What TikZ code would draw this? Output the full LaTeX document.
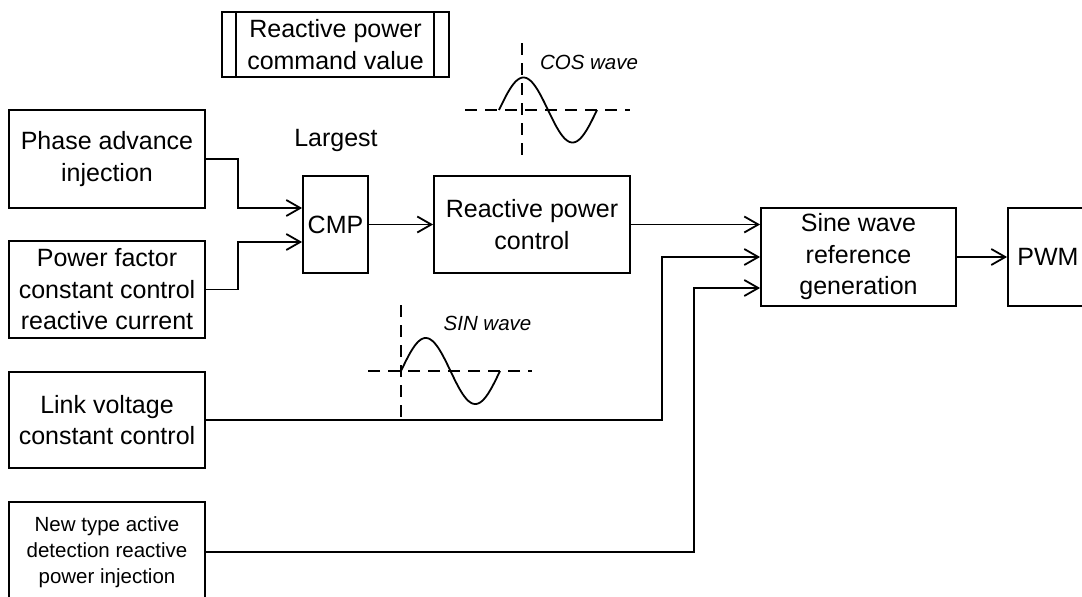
\documentclass[tikz,border=0pt]{standalone}
\usepackage{fontspec}
\setmainfont{Liberation Sans}
\usetikzlibrary{arrows.meta}
\begin{document}
\begin{tikzpicture}[x=1pt,y=-1pt,line width=1.8pt,
  blk/.style={draw,align=center,inner sep=0pt,font=\fontsize{25}{31.5}\selectfont},
  smallblk/.style={draw,align=center,inner sep=0pt,font=\fontsize{20.5}{26}\selectfont},
  txt/.style={inner sep=0pt,font=\fontsize{25}{31.5}\selectfont},
  lbl/.style={inner sep=0pt,font=\fontsize{20.5}{24}\selectfont\itshape},
  arr/.style={-{Straight Barb[length=14pt,width=16pt]}},
  dsh/.style={dash pattern=on 12pt off 8pt},
  wave/.style={smooth,samples=90}]
\clip (0,0) rectangle (1082,597);
% blocks
\node[blk,minimum width=227pt,minimum height=65pt] (cmd) at (335.5,44.5) {Reactive power\\command value};
\draw ([xshift=15pt]cmd.north west) -- ([xshift=15pt]cmd.south west);
\draw ([xshift=-16pt]cmd.north east) -- ([xshift=-16pt]cmd.south east);
\node[blk,minimum width=196pt,minimum height=98pt] (phase) at (107,159) {Phase advance\\injection};
\node[blk,minimum width=196pt,minimum height=97pt] (pf) at (107,289.5) {Power factor\\constant control\\reactive current};
\node[blk,minimum width=196pt,minimum height=96pt] (link) at (107,420) {Link voltage\\constant control};
\node[smallblk,minimum width=196pt,minimum height=100pt] (newt) at (107,552) {New type active\\detection reactive\\power injection};
\node[txt] (lg) at (336,140) {Largest};
\node[blk,minimum width=65pt,minimum height=97pt] (cmp) at (335.5,224.5) {CMP};
\node[blk,minimum width=196pt,minimum height=97pt] (rpc) at (532,224.5) {Reactive power\\control};
\node[blk,minimum width=195pt,minimum height=98pt] (swr) at (858.5,257) {Sine wave\\reference\\generation};
\node[blk,minimum width=80pt,minimum height=98pt] (pwm) at (1048,257) {PWM};
% junction columns
\coordinate (j1) at (238,0);
\coordinate (j2) at (662,0);
\coordinate (j3) at (694,0);
% connectors
\draw[arr] (phase.east) -- (phase.east -| j1) |- ([yshift=16.5pt]cmp.west);
\draw[arr] (pf.east) -- (pf.east -| j1) |- ([yshift=-17.5pt]cmp.west);
\draw[arr] (cmp.east) -- (rpc.west);
\draw[arr] (rpc.east) -- ([yshift=32.5pt]swr.west);
\draw[arr] (link.east) -- (link.east -| j2) |- (swr.west);
\draw[arr] (newt.east) -- (newt.east -| j3) |- ([yshift=-31pt]swr.west);
\draw[arr] (swr.east) -- (pwm.west);
% COS wave
\draw[dsh] (522,43) -- (522,157);
\draw[dsh] (465,110) -- (630,110);
\draw[wave,domain=0:98] plot ({499+\x},{110-32.5*sin(\x/98*360)});
\node[lbl] (cosl) at (589,62) {COS wave};
% SIN wave
\draw[dsh] (401,305) -- (401,420);
\draw[dsh] (368,371) -- (532,371);
\draw[wave,domain=0:99] plot ({401+\x},{371-33*sin(\x/99*360)});
\node[lbl] (sinl) at (487.5,323) {SIN wave};
\end{tikzpicture}
\end{document}
